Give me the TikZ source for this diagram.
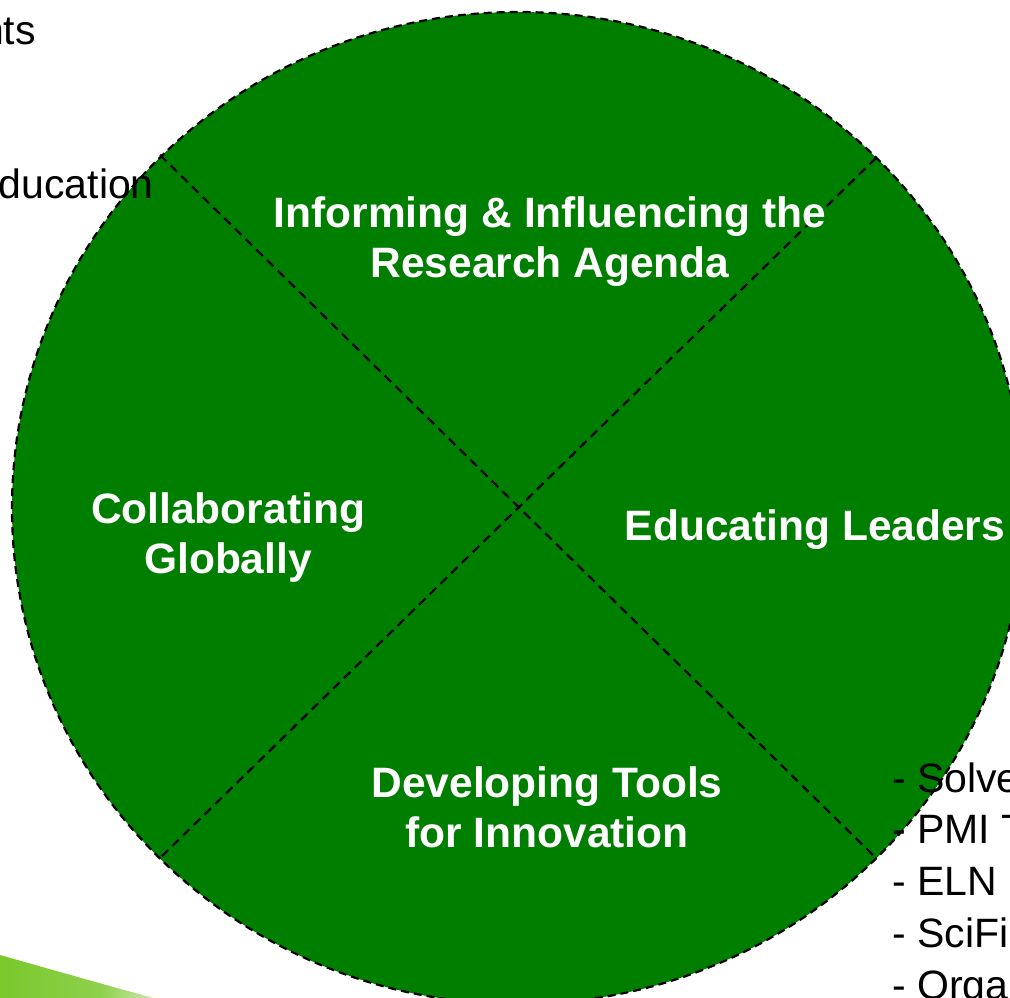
\documentclass[tikz,border=0pt]{standalone}
\usepackage{fontspec}
\setmainfont{Liberation Sans}
\definecolor{quadgreen}{RGB}{0,126,0}
\definecolor{limegreen}{RGB}{122,200,44}
\tikzset{
  quadlabel/.style={text=white, font=\fontsize{42.5}{50}\selectfont\bfseries, align=center, anchor=base, inner sep=0pt},
  sidetext/.style={text=black, font=\fontsize{41}{50}\selectfont, inner sep=0pt},
  rim/.style={draw=black, line width=2.2pt, dash pattern=on 8pt off 5pt},
  divider/.style={draw=black, line width=2.2pt, dash pattern=on 9pt off 6pt},
}
\begin{document}
\begin{tikzpicture}[x=1pt,y=-1pt]
  \useasboundingbox (0,0) rectangle (1010,998);
  \clip (0,0) rectangle (1010,998);
  \fill[white] (0,0) rectangle (1010,998);

  % lime swoosh in the lower left corner
  \begin{scope}
    \clip (0,955) .. controls (60,972) and (140,995) .. (200,1010) -- (0,1010) -- cycle;
    \shade[left color=limegreen, right color=white, middle color=limegreen!85] (0,940) rectangle (200,1010);
  \end{scope}

  % the circle and its four quadrants
  \coordinate (c) at (518,508);
  \fill[quadgreen] (c) ellipse [x radius=506, y radius=496];
  \draw[rim] (c) ellipse [x radius=506, y radius=496];
  \coordinate (nw) at (160,155);
  \coordinate (ne) at (876,158);
  \coordinate (sw) at (160,858);
  \coordinate (se) at (875,857);
  \draw[divider] (nw) -- (se);
  \draw[divider] (ne) -- (sw);

  % text of the neighbouring columns, running over the circle's rim
  \node[sidetext, anchor=base east] (lefta) at (36,45) {nts};
  \node[sidetext, anchor=base east] (leftb) at (154,198) {ducation};
  \node[sidetext, anchor=base west] (ra) at (892,792) {- Solve};
  \node[sidetext, anchor=base west] (rb) at (892,843) {- PMI T};
  \node[sidetext, anchor=base west] (rc) at (892,895) {- ELN};
  \node[sidetext, anchor=base west] (rd) at (892,947) {- SciFi};
  \node[sidetext, anchor=base west] (re) at (892,999) {- Orga};

  % quadrant titles (anchored at the baseline of their last line)
  \node[quadlabel] (top) at (550,277) {Informing \& Influencing the\\Research Agenda};
  \node[quadlabel] (left) at (228,573) {Collaborating\\Globally};
  \node[quadlabel] (right) at (815,540) {Educating Leaders};
  \node[quadlabel] (bottom) at (547,847) {Developing Tools\\for Innovation};
\end{tikzpicture}
\end{document}
